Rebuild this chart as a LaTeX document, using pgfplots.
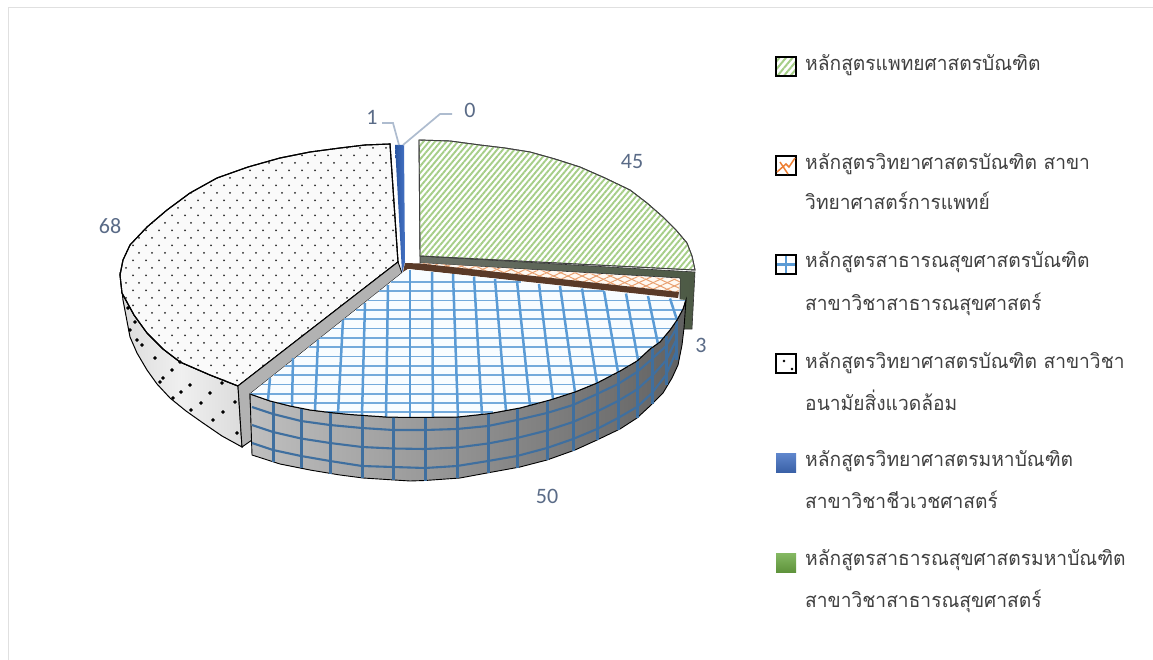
\documentclass[border=0pt]{standalone}
\usepackage{fontspec}
\usepackage{pgfplots}
\pgfplotsset{compat=1.18}
\usetikzlibrary{patterns,patterns.meta}
\newfontfamily\thaifont[Script=Thai,FakeStretch=0.96]{Loma}
\setmainfont{Carlito}
\definecolor{lab}{HTML}{5A6B87}
\definecolor{leader}{HTML}{AEBCCF}
\definecolor{txt}{HTML}{404040}
\definecolor{gridb}{HTML}{5B9BD5}
\definecolor{gridd}{HTML}{3F6F9F}
\definecolor{hatchg}{HTML}{A6CE88}
\definecolor{hatcho}{HTML}{E9A070}
\definecolor{HTMLa}{HTML}{2A55A0}
\definecolor{HTMLb}{HTML}{4472C4}
\definecolor{HTMLc}{HTML}{5A3A28}
\definecolor{HTMLd}{HTML}{F8FCFF}
\definecolor{HTMLe}{HTML}{ED7D31}
\definecolor{HTMLf}{HTML}{70AD47}
\definecolor{wallL}{HTML}{6B7068}
\definecolor{wallR}{HTML}{4D5A45}
\pgfdeclarepatternformonly{stagdots}{\pgfqpoint{0pt}{0pt}}{\pgfqpoint{13pt}{15.4pt}}{\pgfqpoint{13pt}{15.4pt}}{%
  \pgfpathcircle{\pgfqpoint{3.25pt}{3.85pt}}{1.05pt}%
  \pgfpathcircle{\pgfqpoint{9.75pt}{11.55pt}}{1.05pt}%
  \pgfusepath{fill}}
\pgfplotsset{
  gv/.style={gridb,line width=2.5pt},
  gh/.style={gridb!85,line width=1.7pt},
  wv/.style={gridd,line width=3pt},
  wh/.style={gridd,line width=2.1pt},
  lg/.style={leader,line width=1.7pt},
}
\newcommand{\lgt}[3]{\node[anchor=base west,inner sep=0pt,text=txt,font={\thaifont\fontsize{20}{24}\selectfont}] at (axis cs:#1,#2) {#3};}
\newcommand{\val}[3]{\node[anchor=center,inner sep=0pt,text=lab,font={\fontsize{22}{26}\selectfont}] at (axis cs:#1,#2) {#3};}
\begin{document}
\begin{tikzpicture}
\begin{axis}[width=1153pt,height=660pt,scale only axis,axis lines=none,
  xmin=0,xmax=1153,ymin=0,ymax=660,y dir=reverse,clip=true]
% page
\addplot[fill=white,draw=none] coordinates {(0,0)(1153,0)(1153,660)(0,660)} --cycle;
\addplot[color=black!12,line width=1pt] coordinates {(1153,7.5)(8.5,7.5)(8.5,660)};
% dotted slice wall
\addplot[left color=black!14,right color=black!14,middle color=black!6,draw=black,line width=1pt] coordinates {
(120,272)(122,293)(134,315)(147,333)(163,349)(180,362)(210,375)(238,386)(242,447)(222,436)(203,423)(186,411)(170,398)(157,384)(147,370)(137,353)(130,337)(123,300)} --cycle;
\addplot[only marks,mark=*,mark size=1.6pt,color=black] coordinates {
(128,308)(135,322)(142,345)(155,358)(130,330)(137,340)(163,378)(172,370)(180,362)(160,382)(173,398)(181,392)(190,385)(191,410)(201,403)(210,393)(222,383)(213,420)(223,412)(235,402)(237,433)};
% dotted top
\addplot[fill=black!2,draw=black,line width=1.1pt,postaction={pattern color=black!85,pattern=stagdots}] coordinates {
(390,144)(365,145)(340,148)(310,152)(280,158)(248,167)(217,178)(190,193)(167,210)(147,227)(130,245)(123,260)(120,275)(122,293)(134,315)(147,333)(163,349)(180,362)(210,375)(238,386)(398,262)} --cycle;
% grey radial wall
\addplot[fill=black!30,draw=black,line width=0.9pt] coordinates {(398,262)(402,273)(250,394)(252,440)(242,447)(238,386)} --cycle;
% thin blue slice
\addplot[left color=HTMLa,right color=HTMLb,draw=none] coordinates {(395,145)(404,145)(405,262)(402,273)} --cycle;
% green slice: wall
\addplot[left color=wallL,right color=wallR,draw=black!80,line width=0.6pt] coordinates {(420,256)(695,272)(692,329)(680,329)(680,278)(420,263)} --cycle;
% green top
\addplot[fill=white,draw=black!75,line width=0.9pt,postaction={pattern color=hatchg,pattern={Lines[angle=50,distance=4.4pt,line width=1.9pt]}}] coordinates {
(419,140)(450,141)(480,145)(505,148)(530,152)(555,159)(580,167)(605,178)(630,190)(647,203)(663,217)(676,230)(687,243)(692,256)(695,270)(420,256)} --cycle;
% orange slice
\addplot[fill=white!95!orange,draw=none,postaction={pattern color=hatcho,pattern={Lines[angle=25,distance=6pt,line width=1pt]}},postaction={pattern color=hatcho,pattern={Lines[angle=-25,distance=6pt,line width=1pt]}}] coordinates {(420,263)(680,279)(679,292)(423,265)} --cycle;
\addplot[fill=HTMLc,draw=none] coordinates {(405,263)(420,263.5)(679,292)(678,298)(408,269)(403,272)} --cycle;
% blue slice wall
\addplot[left color=black!25,middle color=black!40,right color=black!62,draw=black,line width=0.9pt] coordinates {
(250,394)(270,401)(290,406)(310,410)(330,412.5)(350,414.5)(386,417)(410,417.5)(458,417)(490,413.5)(520,408)(550,400)(575,392)(597,383)(620,371)(637,361)(650,349)(660,342)(670,330)(677,320)(683,309)(686,300)
(684,328)(682,345)(678,365)(672,378)(663,393)(650,406)(637,418)(620,429)(597,440)(575,450)(547,460)(520,467)(487,473)(460,478)(425,480.5)(410,481)(363,478)(340,475)(310,470)(280,464)(252,455)} --cycle;
\addplot[wv] coordinates {(273,402)(273,462)};
\addplot[wv] coordinates {(301,409)(301,468)};
\addplot[wv] coordinates {(330,412.5)(330,473.5)};
\addplot[wv] coordinates {(362,415.5)(362,478)};
\addplot[wv] coordinates {(393,417)(393,480)};
\addplot[wv] coordinates {(425,417.5)(425,480.5)};
\addplot[wv] coordinates {(457,417)(457,478)};
\addplot[wv] coordinates {(488,414)(488,473)};
\addplot[wv] coordinates {(517,408.5)(517,467.5)};
\addplot[wv] coordinates {(547,401)(547,460)};
\addplot[wv] coordinates {(573,393)(573,451)};
\addplot[wv] coordinates {(597,383)(597,440)};
\addplot[wv] coordinates {(618,372)(618,430)};
\addplot[wv] coordinates {(637,361)(637,418)};
\addplot[wv] coordinates {(652,348)(652,404)};
\addplot[wv] coordinates {(666,336)(666,385)};
\addplot[wv] coordinates {(676,321)(676,360)};
\addplot[wh] coordinates {(252,407)(273,414)(301,421)(330,425)(362,428)(393,430)(425,430)(457,429)(488,426)(517,420)(547,413)(573,405)(597,394)(618,384)(637,372)(652,359)(666,346)(676,329)};
\addplot[wh] coordinates {(252,425)(273,432)(301,438.5)(330,443)(362,447)(393,448.5)(425,449)(457,447.5)(488,443.5)(517,438)(547,430.5)(573,422)(597,411.5)(618,401)(637,389.5)(652,376)(666,360.5)(676,340.5)};
\addplot[wh] coordinates {(252,443)(273,450)(301,456)(330,461)(362,466)(393,467)(425,468)(457,466)(488,461)(517,456)(547,448)(573,439)(597,429)(618,418)(637,407)(652,393)(666,375)(676,352)};
% blue slice top
\addplot[fill=HTMLd,draw=none] coordinates {
(408,269)(685,300)(683,309)(677,320)(670,330)(660,342)(650,349)(637,361)(620,371)(597,383)(575,392)(550,400)(520,408)(490,413.5)(458,417)(410,417.5)(386,417)(350,414.5)(330,412.5)(310,410)(290,406)(270,401)(250,394)(402,273)} --cycle;
\addplot[gh] coordinates {(391,281.7)(521,281.7)};
\addplot[gh] coordinates {(379.4,291)(604,291)};
\addplot[gh] coordinates {(367.5,300.5)(686,300.5)};
\addplot[gh] coordinates {(355.5,310)(682.5,310)};
\addplot[gh] coordinates {(344,319)(677.5,319)};
\addplot[gh] coordinates {(332,328.5)(671,328.5)};
\addplot[gh] coordinates {(320.3,338)(663.5,338)};
\addplot[gh] coordinates {(309,347)(651.5,347)};
\addplot[gh] coordinates {(297,356.5)(641,356.5)};
\addplot[gh] coordinates {(285,366)(629,366)};
\addplot[gh] coordinates {(273.6,375)(613,375)};
\addplot[gh] coordinates {(261.7,384.5)(593.5,384.5)};
\addplot[gh] coordinates {(250,394)(569,394)};
\addplot[gh] coordinates {(278,403)(539,403)};
\addplot[gh] coordinates {(326,412)(493,412)};
\addplot[gv] coordinates {(270,378)(268,400)};
\addplot[gv] coordinates {(293,358)(292,406.5)};
\addplot[gv] coordinates {(318,340)(315,410.5)};
\addplot[gv] coordinates {(343,320)(338,413.5)};
\addplot[gv] coordinates {(365,303)(362,415.5)};
\addplot[gv] coordinates {(388,285)(386,417)};
\addplot[gv] coordinates {(410,270)(410,417.5)};
\addplot[gv] coordinates {(432,272)(433,417.5)};
\addplot[gv] coordinates {(453,274)(458,417)};
\addplot[gv] coordinates {(474,276.5)(482,415)};
\addplot[gv] coordinates {(495,279)(506,411)};
\addplot[gv] coordinates {(517,281)(530,405.5)};
\addplot[gv] coordinates {(539,284)(553,399)};
\addplot[gv] coordinates {(560,286)(575,392)};
\addplot[gv] coordinates {(582,288.5)(597,383)};
\addplot[gv] coordinates {(604,291)(618,372)};
\addplot[gv] coordinates {(626,293.5)(638,360)};
\addplot[gv] coordinates {(648,296)(658,344)};
\addplot[gv] coordinates {(670,298.5)(677,320)};
\addplot[black,line width=1pt] coordinates {(250,394)(270,401)(290,406)(310,410)(330,412.5)(350,414.5)(386,417)(410,417.5)(458,417)(490,413.5)(520,408)(550,400)(575,392)(597,383)(620,371)(637,361)(650,349)(660,342)(670,330)(677,320)(683,309)(686,300)};
% leaders
\addplot[lg] coordinates {(382,123)(393,123)(399,145)};
\addplot[lg] coordinates {(452,114)(440,114)(403,145)};
% legend swatches
\addplot[fill=white,draw=black,line width=1.8pt,postaction={pattern color=hatchg,pattern={Lines[angle=50,distance=5pt,line width=2pt]}}] coordinates {(776,57)(796,57)(796,76)(776,76)} --cycle;
\addplot[fill=white,draw=black,line width=1.8pt] coordinates {(776,156)(796,156)(796,175)(776,175)} --cycle;
\addplot[color=HTMLe,line width=1.5pt] coordinates {(777,172)(786,164)(789,167)(795,158)};
\addplot[color=HTMLe,line width=1.5pt] coordinates {(780,162)(788,174)};
\addplot[fill=white,draw=black,line width=1.8pt] coordinates {(776,255)(796,255)(796,274)(776,274)} --cycle;
\addplot[gridb,line width=2.4pt] coordinates {(786,256)(786,273)};
\addplot[gridb,line width=2.4pt] coordinates {(777,264.5)(795,264.5)};
\addplot[fill=white,draw=black,line width=1.8pt] coordinates {(776,354)(796,354)(796,373)(776,373)} --cycle;
\addplot[only marks,mark=*,mark size=1.1pt,black] coordinates {(784,361)(792,369)};
\addplot[top color=HTMLb!85!white,bottom color=HTMLb!85!black,draw=none] coordinates {(776,453)(796,453)(796,472)(776,472)} --cycle;
\addplot[top color=HTMLf!85!white,bottom color=HTMLf!85!black,draw=none] coordinates {(776,553)(796,553)(796,572)(776,572)} --cycle;
% value labels
\val{372}{117}{1}
\val{470}{110}{0}
\val{632}{162}{45}
\val{110}{226}{68}
\val{701}{345}{3}
\val{547}{496}{50}
% legend text
\lgt{805}{71}{หลักสูตรแพทยศาสตรบัณฑิต}
\lgt{805}{170}{หลักสูตรวิทยาศาสตรบัณฑิต สาขา}
\lgt{805}{210}{วิทยาศาสตร์การแพทย์}
\lgt{805}{268}{หลักสูตรสาธารณสุขศาสตรบัณฑิต}
\lgt{805}{310}{สาขาวิชาสาธารณสุขศาสตร์}
\lgt{805}{368}{หลักสูตรวิทยาศาสตรบัณฑิต สาขาวิชา}
\lgt{805}{410}{อนามัยสิ่งแวดล้อม}
\lgt{805}{466}{หลักสูตรวิทยาศาสตรมหาบัณฑิต}
\lgt{805}{508}{สาขาวิชาชีวเวชศาสตร์}
\lgt{805}{565}{หลักสูตรสาธารณสุขศาสตรมหาบัณฑิต}
\lgt{805}{607}{สาขาวิชาสาธารณสุขศาสตร์}
\end{axis}
\end{tikzpicture}
\end{document}
